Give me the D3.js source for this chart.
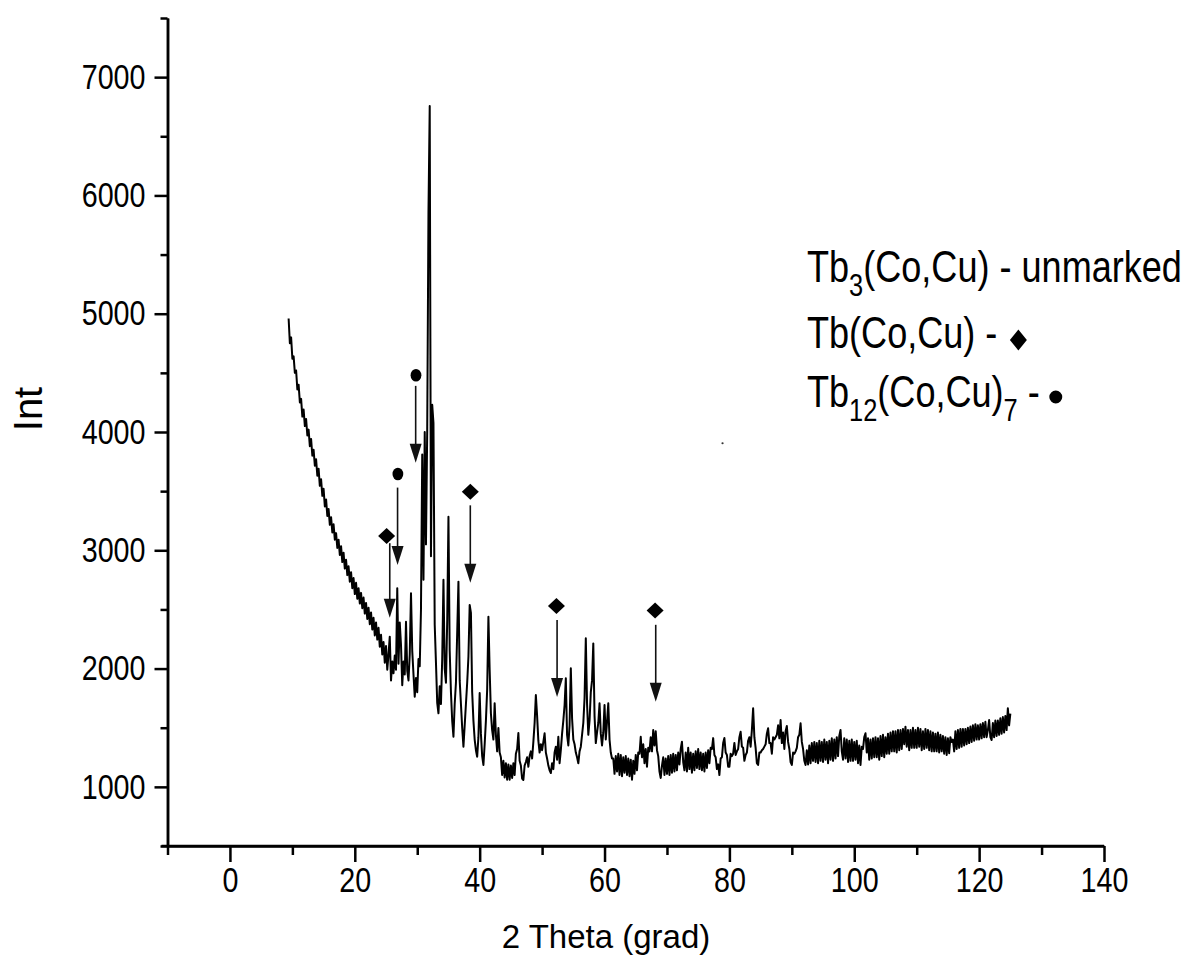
<!DOCTYPE html>
<html>
<head>
<meta charset="utf-8">
<title>XRD pattern Tb-Co-Cu</title>
<script src="https://cdn.jsdelivr.net/npm/d3@7"></script>
<style>
  html, body { margin: 0; padding: 0; background: #fff; }
  #chart { width: 1181px; height: 973px; }
  svg { display: block; }
</style>
</head>
<body>
<div id="chart"></div>
<script>
/* XRD pattern of the Tb-(Co,Cu) alloy, intensity vs 2 Theta,
   with phase markers and arrows over the identified reflections. */

// --- Data ---
// Measured scan: starts at 9.4 deg, one reading every 0.2 deg.
var START_2THETA = 9.4;
var STEP_2THETA = 0.2;
var intensity = [
  4960, 4750, 4800, 4620, 4640, 4500, 4520, 4360, 4400, 4250,
  4280, 4130, 4190, 4050, 4110, 3970, 4020, 3880, 3940, 3800,
  3850, 3715, 3770, 3630, 3690, 3545, 3600, 3460, 3520, 3370,
  3430, 3290, 3350, 3215, 3280, 3150, 3220, 3090, 3145, 3020,
  3090, 2960, 3035, 2900, 2980, 2845, 2920, 2790, 2865, 2735,
  2815, 2680, 2765, 2630, 2725, 2590, 2680, 2550, 2640, 2510,
  2600, 2465, 2555, 2420, 2515, 2375, 2475, 2330, 2430, 2280,
  2390, 2245, 2345, 2185, 2285, 2120, 2225, 2050, 2190, 1990,
  2120, 2270, 1900, 2060, 1960, 2110, 1990, 2680, 2040, 2390,
  2200, 1860, 2060, 1950, 2396, 1980, 1900, 2120, 2636, 2150,
  1950, 1762, 1920, 1800, 2080, 2020, 2500, 3810, 2750, 4000,
  3050, 4020, 5860, 6756, 2950, 4230, 4075, 2370, 2050, 1710,
  1622, 1850, 1700, 2080, 2750, 2000, 1880, 2400, 3284, 2150,
  1800, 1560, 1424, 1700, 1880, 2300, 2735, 1900, 1700, 1500,
  1340, 1520, 1700, 1880, 2100, 2538, 2470, 1800, 1560, 1400,
  1310, 1255, 1420, 1793, 1450, 1260, 1185, 1360, 1560, 1820,
  2439, 1990, 1620, 1480, 1400, 1706, 1440, 1300, 1498, 1290,
  1250, 1100, 1220, 1080, 1200, 1060, 1190, 1060, 1180, 1075,
  1200, 1100, 1280, 1320, 1455, 1220, 1180, 1070, 1058, 1180,
  1210, 1250, 1170, 1260, 1300, 1240, 1380, 1540, 1776, 1600,
  1390, 1290, 1360, 1310, 1380, 1453, 1290, 1240, 1180, 1140,
  1117, 1200, 1150, 1290, 1340, 1230, 1424, 1200, 1310, 1450,
  1560, 1690, 1918, 1440, 1350, 1520, 2002, 1580, 1400, 1360,
  1290, 1250, 1199, 1300, 1340, 1440, 1540, 1750, 2256, 1700,
  1440, 1560, 1800, 1900, 2213, 1600, 1370, 1460, 1540, 1706,
  1450, 1350, 1460, 1692, 1400, 1550, 1706, 1400, 1290, 1240,
  1240, 1110, 1260, 1130, 1280, 1100, 1270, 1090, 1250, 1120,
  1260, 1100, 1240, 1090, 1230, 1060, 1220, 1110, 1270, 1140,
  1290, 1280, 1424, 1250, 1360, 1200, 1320, 1170, 1330, 1300,
  1420, 1300, 1481, 1350, 1470, 1310, 1260, 1130, 1075, 1180,
  1250, 1100, 1240, 1110, 1260, 1100, 1270, 1120, 1280, 1130,
  1270, 1140, 1290, 1190, 1320, 1381, 1210, 1140, 1290, 1130,
  1330, 1150, 1290, 1120, 1280, 1140, 1300, 1160, 1320, 1150,
  1290, 1140, 1280, 1130, 1290, 1160, 1310, 1200, 1330, 1320,
  1412, 1270, 1250, 1150, 1190, 1100, 1240, 1250, 1370, 1413,
  1290, 1270, 1170, 1171, 1280, 1260, 1280, 1371, 1270, 1300,
  1320, 1420, 1466, 1340, 1330, 1220, 1270, 1290, 1390, 1420,
  1340, 1480, 1664, 1420, 1330, 1200, 1185, 1290, 1290, 1310,
  1320, 1340, 1360, 1450, 1495, 1370, 1370, 1280, 1420, 1400,
  1420, 1440, 1520, 1410, 1565, 1370, 1460, 1320, 1470, 1514,
  1380, 1320, 1210, 1185, 1290, 1280, 1300, 1330, 1420, 1440,
  1537, 1380, 1320, 1220, 1185, 1310, 1190, 1350, 1200, 1370,
  1220, 1380, 1210, 1370, 1200, 1390, 1220, 1380, 1210, 1400,
  1230, 1380, 1200, 1390, 1230, 1410, 1220, 1400, 1240, 1420,
  1260, 1430, 1481, 1300, 1230, 1410, 1240, 1400, 1210, 1390,
  1220, 1400, 1220, 1380, 1230, 1390, 1200, 1350, 1185, 1340,
  1320, 1420, 1453, 1290, 1410, 1230, 1400, 1240, 1410, 1250,
  1420, 1250, 1410, 1230, 1430, 1260, 1440, 1250, 1420, 1280,
  1450, 1280, 1460, 1300, 1470, 1300, 1470, 1290, 1480, 1310,
  1480, 1320, 1490, 1360, 1509, 1340, 1480, 1310, 1480, 1330,
  1500, 1330, 1480, 1330, 1500, 1340, 1490, 1310, 1470, 1320,
  1490, 1330, 1480, 1310, 1470, 1300, 1460, 1300, 1450, 1300,
  1460, 1290, 1440, 1300, 1430, 1280, 1420, 1270, 1410, 1284,
  1420, 1380, 1400, 1300, 1470, 1320, 1480, 1330, 1490, 1340,
  1490, 1350, 1490, 1360, 1500, 1370, 1510, 1380, 1520, 1390,
  1530, 1400, 1520, 1400, 1530, 1410, 1540, 1420, 1550, 1420,
  1480, 1565, 1420, 1396, 1540, 1420, 1560, 1430, 1560, 1440,
  1580, 1450, 1590, 1460, 1600, 1480, 1664, 1520, 1620
];

// Axis ticks
var xTicks = [0, 20, 40, 60, 80, 100, 120, 140];
var xMinorTicks = [-10, 10, 30, 50, 70, 90, 110, 130];
var yTicks = [1000, 2000, 3000, 4000, 5000, 6000, 7000];
var yMinorTicks = [500, 1500, 2500, 3500, 4500, 5500, 6500, 7500];

// Phase markers over the reflections, and the arrows below them
var markerType  = ['diamond', 'dot', 'dot', 'diamond', 'diamond', 'diamond'];
var markerTheta = [25.1, 26.9, 29.8, 38.5, 52.3, 68.1];
var markerInt   = [3120, 3645, 4480, 3495, 2530, 2490];
var arrowTheta  = [25.6, 26.85, 29.75, 38.5, 52.4, 68.2];
var arrowFrom   = [3060, 3530, 4390, 3380, 2410, 2370];
var arrowTo     = [2430, 2875, 3740, 2725, 1760, 1720];

// Stray speck in the original figure
var strayPoint = [78.9, 3905];

// Legend: text pieces, 1 = subscript
var legendLabels = [
  [['Tb', 0], ['3', 1], ['(Co,Cu) - unmarked', 0]],
  [['Tb(Co,Cu) -', 0]],
  [['Tb', 0], ['12', 1], ['(Co,Cu)', 0], ['7', 1], [' -', 0]]
];
var legendSymbol = [null, 'diamond', 'dot'];

var xTitle = '2 Theta (grad)';
var yTitle = 'Int';

(function () {
  'use strict';

  var W = 1181, H = 973;
  var FONT = 'Liberation Sans, Arial, Helvetica, sans-serif';
  var NARROW = 0.82;          // tick and legend text are condensed
  var INK = '#000';

  var svg = d3.select('#chart')
    .append('svg')
    .attr('width', W)
    .attr('height', H)
    .attr('viewBox', '0 0 ' + W + ' ' + H);

  // --- Scales ---
  var x = d3.scaleLinear().domain([-10, 140]).range([167.5, 1104]);
  var y = d3.scaleLinear().domain([500, 7500]).range([846, 18]);

  // --- Axes ---
  function styleAxis(g) {
    g.select('.domain').attr('stroke', INK).attr('stroke-width', 2.5);
    g.selectAll('.tick line').attr('stroke', INK).attr('stroke-width', 2.5);
  }

  // minor ticks first, majors on top
  svg.append('g')
    .attr('transform', 'translate(0,846)')
    .call(d3.axisBottom(x).tickValues(xMinorTicks).tickSize(9).tickSizeOuter(0).tickFormat(''))
    .call(styleAxis);

  var xAxis = svg.append('g')
    .attr('transform', 'translate(0,846)')
    .call(d3.axisBottom(x).tickValues(xTicks).tickSize(16).tickSizeOuter(0).tickPadding(5)
      .tickFormat(d3.format('d')))
    .call(styleAxis);

  xAxis.select('.domain').attr('d', 'M' + (x(-10) - 6) + ',0H' + x(140));

  xAxis.selectAll('.tick text')
    .attr('font-family', FONT)
    .attr('font-size', 35)
    .attr('fill', INK)
    .attr('transform', 'scale(' + NARROW + ',1)');

  svg.append('g')
    .attr('transform', 'translate(' + x(-10) + ',0)')
    .call(d3.axisLeft(y).tickValues(yMinorTicks).tickSize(7).tickSizeOuter(0).tickFormat(''))
    .call(styleAxis);

  var yAxis = svg.append('g')
    .attr('transform', 'translate(' + x(-10) + ',0)')
    .call(d3.axisLeft(y).tickValues(yTicks).tickSize(13).tickSizeOuter(0).tickPadding(9)
      .tickFormat(d3.format('d')))
    .call(styleAxis);

  yAxis.selectAll('.tick text')
    .attr('font-family', FONT)
    .attr('font-size', 35)
    .attr('fill', INK)
    .attr('x', -22 / NARROW)
    .attr('transform', 'scale(' + NARROW + ',1)');

  // Axis titles
  svg.append('text')
    .attr('x', 606)
    .attr('y', 948)
    .attr('text-anchor', 'middle')
    .attr('font-family', FONT)
    .attr('font-size', 33)
    .attr('fill', INK)
    .text(xTitle);

  svg.append('text')
    .attr('transform', 'translate(42,409) rotate(-90)')
    .attr('text-anchor', 'middle')
    .attr('font-family', FONT)
    .attr('font-size', 40)
    .attr('fill', INK)
    .text(yTitle);

  // --- Pattern ---
  var line = d3.line()
    .x(function (d, i) { return x(START_2THETA + i * STEP_2THETA); })
    .y(function (d) { return y(d); });

  svg.append('path')
    .datum(intensity)
    .attr('d', line)
    .attr('fill', 'none')
    .attr('stroke', INK)
    .attr('stroke-width', 2)
    .attr('stroke-linejoin', 'round');

  // --- Phase markers + arrows ---
  function diamondPath(w, h) {
    var p = d3.path();
    p.moveTo(0, -h / 2);
    p.lineTo(w / 2, 0);
    p.lineTo(0, h / 2);
    p.lineTo(-w / 2, 0);
    p.closePath();
    return p.toString();
  }
  var dotPath = d3.symbol(d3.symbolCircle, Math.PI * 36)();

  var marks = svg.append('g').attr('class', 'phase-marks');

  markerType.forEach(function (type, i) {
    marks.append('path')
      .attr('d', type === 'diamond' ? diamondPath(17, 16) : dotPath)
      .attr('transform', 'translate(' + x(markerTheta[i]) + ',' + y(markerInt[i]) + ')' +
        (type === 'dot' ? ' scale(0.9,1.05)' : ''))
      .attr('fill', INK);

    var ax = x(arrowTheta[i]);
    var tip = y(arrowTo[i]);
    marks.append('line')
      .attr('x1', ax).attr('x2', ax)
      .attr('y1', y(arrowFrom[i])).attr('y2', tip - 16)
      .attr('stroke', '#111')
      .attr('stroke-width', 1.6);
    marks.append('path')
      .attr('d', 'M' + (ax - 6) + ',' + (tip - 19) + 'L' + (ax + 6) + ',' + (tip - 19) + 'L' + ax + ',' + tip + 'Z')
      .attr('fill', '#111');
  });

  svg.append('circle')
    .attr('cx', x(strayPoint[0]))
    .attr('cy', y(strayPoint[1]))
    .attr('r', 1.1)
    .attr('fill', '#333');

  // --- Legend ---
  var legendX = 807;
  var legendBase = [282, 348, 407];
  var legend = svg.append('g').attr('class', 'legend');

  legendLabels.forEach(function (pieces, row) {
    var t = legend.append('text')
      .attr('transform', 'translate(' + legendX + ',' + legendBase[row] + ') scale(' + NARROW + ',1)')
      .attr('font-family', FONT)
      .attr('font-size', 44)
      .attr('fill', INK)
      .style('white-space', 'pre');

    var shifted = false;
    pieces.forEach(function (p) {
      var ts = t.append('tspan').text(p[0]);
      if (p[1]) {
        ts.attr('font-size', 31).attr('dy', shifted ? 0 : 14);
        shifted = true;
      } else if (shifted) {
        ts.attr('dy', -14);
        shifted = false;
      }
    });

    var sym = legendSymbol[row];
    if (sym) {
      var end = legendX + t.node().getComputedTextLength() * NARROW;
      if (sym === 'diamond') {
        legend.append('path')
          .attr('d', diamondPath(17, 21))
          .attr('transform', 'translate(' + (end + 21) + ',' + (legendBase[row] - 8) + ')')
          .attr('fill', INK);
      } else {
        legend.append('path')
          .attr('d', d3.symbol(d3.symbolCircle, Math.PI * 42)())
          .attr('transform', 'translate(' + (end + 16) + ',' + (legendBase[row] - 10) + ')')
          .attr('fill', INK);
      }
    }
  });
})();
</script>
</body>
</html>
